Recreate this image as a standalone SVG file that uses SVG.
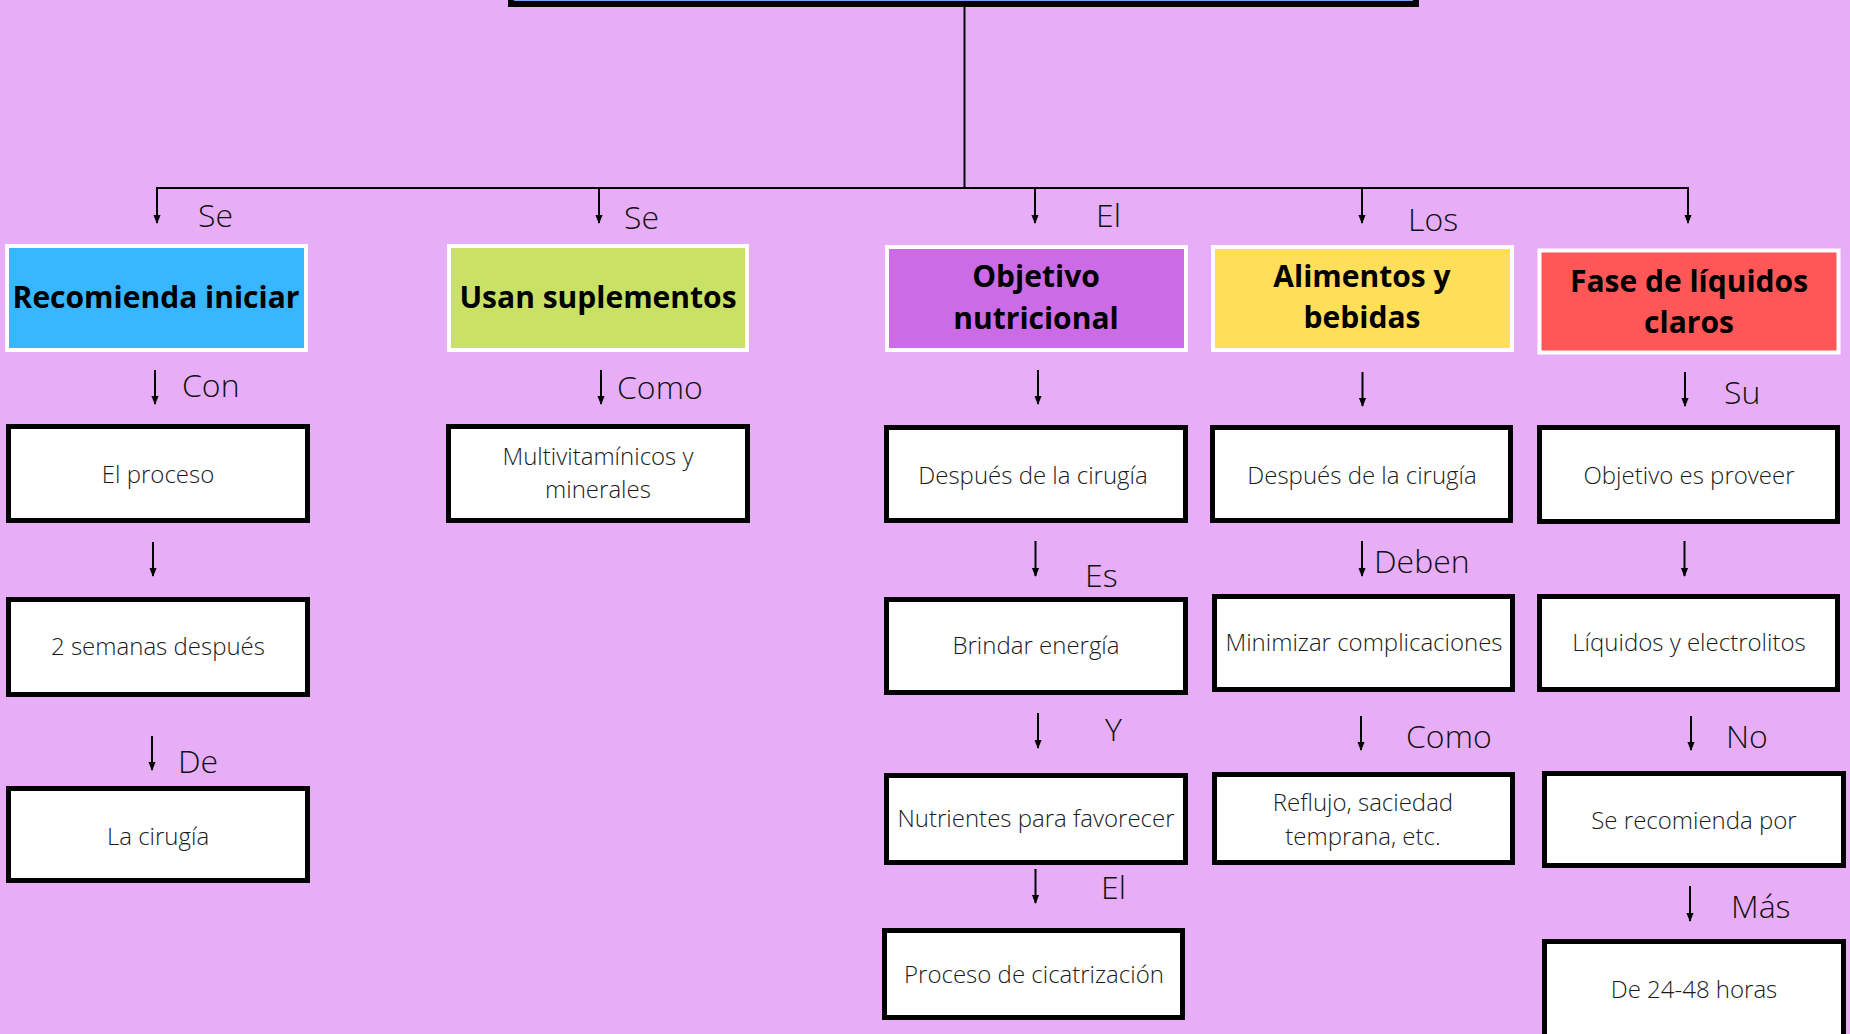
<svg xmlns="http://www.w3.org/2000/svg" width="1850" height="1034" viewBox="0 0 1850 1034">
<defs>
<style>
.bg{fill:#e7adf7}
.hdr{stroke:#ffffff;stroke-width:4}
.node{fill:#ffffff;stroke:#000000;stroke-width:5}
.conn{stroke:#000000;stroke-width:2;fill:none}
.arr{stroke:#000000;stroke-width:2;fill:none;marker-end:url(#ah)}
.lbl{font-family:"Open Sans","Noto Sans",sans-serif;font-weight:300;font-size:32px;fill:#111111}
.txt{font-family:"Open Sans","Noto Sans",sans-serif;font-weight:300;font-size:24px;fill:#1a1a1a;text-anchor:middle}
.htxt{font-family:"Open Sans","Noto Sans",sans-serif;font-weight:700;font-size:30px;fill:#000000;text-anchor:middle}
</style>
<marker id="ah" viewBox="0 0 10 10" refX="9" refY="5" markerWidth="9" markerHeight="9" markerUnits="userSpaceOnUse" orient="auto">
<path d="M0,1 L10,5 L0,9 z" fill="#000000"/>
</marker>
</defs>
<rect class="bg" x="0" y="0" width="1850" height="1034"/>

<g id="top">
<rect x="511" y="-20" width="905" height="24" fill="#7ea3f2" stroke="#000000" stroke-width="6"/>
</g>

<g id="connectors">
<line class="conn" x1="964.5" y1="6" x2="964.5" y2="188"/>
<line class="conn" x1="156" y1="188" x2="1689" y2="188"/>
<line class="arr" x1="157" y1="188" x2="157" y2="223"/>
<line class="arr" x1="599" y1="188" x2="599" y2="223"/>
<line class="arr" x1="1035" y1="188" x2="1035" y2="223"/>
<line class="arr" x1="1362" y1="188" x2="1362" y2="223"/>
<line class="arr" x1="1688" y1="188" x2="1688" y2="223"/>

<line class="arr" x1="155" y1="370" x2="155" y2="404"/>
<line class="arr" x1="153" y1="542" x2="153" y2="576"/>
<line class="arr" x1="152" y1="736" x2="152" y2="770"/>
<line class="arr" x1="601" y1="370" x2="601" y2="404"/>
<line class="arr" x1="1038" y1="370" x2="1038" y2="404"/>
<line class="arr" x1="1035.5" y1="541" x2="1035.5" y2="576"/>
<line class="arr" x1="1038" y1="713" x2="1038" y2="748"/>
<line class="arr" x1="1035.5" y1="869" x2="1035.5" y2="903"/>
<line class="arr" x1="1362.5" y1="372" x2="1362.5" y2="406"/>
<line class="arr" x1="1362" y1="541" x2="1362" y2="576"/>
<line class="arr" x1="1361" y1="716" x2="1361" y2="750"/>
<line class="arr" x1="1685" y1="372" x2="1685" y2="406"/>
<line class="arr" x1="1684.5" y1="541" x2="1684.5" y2="576"/>
<line class="arr" x1="1691" y1="716" x2="1691" y2="750"/>
<line class="arr" x1="1690" y1="886" x2="1690" y2="921"/>

<text class="lbl" x="198" y="227">Se</text>
<text class="lbl" x="624" y="229">Se</text>
<text class="lbl" x="1096" y="227">El</text>
<text class="lbl" x="1408" y="231">Los</text>
<text class="lbl" x="182" y="397">Con</text>
<text class="lbl" x="178" y="773">De</text>
<text class="lbl" x="617" y="399">Como</text>
<text class="lbl" x="1085" y="587">Es</text>
<text class="lbl" x="1105" y="741">Y</text>
<text class="lbl" x="1101" y="899">El</text>
<text class="lbl" x="1374" y="573">Deben</text>
<text class="lbl" x="1406" y="748">Como</text>
<text class="lbl" x="1724" y="404">Su</text>
<text class="lbl" x="1726" y="748">No</text>
<text class="lbl" x="1731" y="918">Más</text>
</g>

<g id="h1"><rect class="hdr" x="7" y="246" width="299" height="104" fill="#38b6ff"/><text class="htxt" x="156" y="308">Recomienda iniciar</text></g>
<g id="h2"><rect class="hdr" x="449" y="246" width="298" height="104" fill="#c9e265"/><text class="htxt" x="598" y="308">Usan suplementos</text></g>
<g id="h3"><rect class="hdr" x="887" y="247" width="299" height="103" fill="#cb6ce6"/><text class="htxt" x="1036" y="287">Objetivo</text><text class="htxt" x="1036" y="329">nutricional</text></g>
<g id="h4"><rect class="hdr" x="1213" y="247" width="299" height="103" fill="#ffde59"/><text class="htxt" x="1362" y="287">Alimentos y</text><text class="htxt" x="1362" y="328">bebidas</text></g>
<g id="h5"><rect class="hdr" x="1539.5" y="250.5" width="299" height="102" fill="#ff5757" stroke-width="5"/><text class="htxt" x="1689" y="292">Fase de líquidos</text><text class="htxt" x="1689" y="333">claros</text></g>

<g id="n1"><rect class="node" x="8.5" y="426.5" width="299" height="94"/><text class="txt" x="158" y="483">El proceso</text></g>
<g id="n2"><rect class="node" x="8.5" y="599.5" width="299" height="95"/><text class="txt" x="158" y="655">2 semanas después</text></g>
<g id="n3"><rect class="node" x="8.5" y="788.5" width="299" height="92"/><text class="txt" x="158" y="845">La cirugía</text></g>
<g id="n4"><rect class="node" x="448.5" y="426.5" width="299" height="94"/><text class="txt" x="598" y="465">Multivitamínicos y</text><text class="txt" x="598" y="498">minerales</text></g>
<g id="n5"><rect class="node" x="886.5" y="427.5" width="299" height="93"/><text class="txt" x="1033" y="484">Después de la cirugía</text></g>
<g id="n6"><rect class="node" x="886.5" y="599.5" width="299" height="93"/><text class="txt" x="1036" y="654">Brindar energía</text></g>
<g id="n7"><rect class="node" x="886.5" y="775.5" width="299" height="87"/><text class="txt" x="1036" y="827">Nutrientes para favorecer</text></g>
<g id="n8"><rect class="node" x="884.5" y="930.5" width="298" height="87"/><text class="txt" x="1034" y="983">Proceso de cicatrización</text></g>
<g id="n9"><rect class="node" x="1212.5" y="427.5" width="298" height="93"/><text class="txt" x="1362" y="484">Después de la cirugía</text></g>
<g id="n10"><rect class="node" x="1214.5" y="596.5" width="298" height="93"/><text class="txt" x="1364" y="651">Minimizar complicaciones</text></g>
<g id="n11"><rect class="node" x="1214.5" y="774.5" width="298" height="88"/><text class="txt" x="1363" y="811">Reflujo, saciedad</text><text class="txt" x="1363" y="845">temprana, etc.</text></g>
<g id="n12"><rect class="node" x="1539.5" y="427.5" width="298" height="94"/><text class="txt" x="1689" y="484">Objetivo es proveer</text></g>
<g id="n13"><rect class="node" x="1539.5" y="596.5" width="298" height="93"/><text class="txt" x="1689" y="651">Líquidos y electrolitos</text></g>
<g id="n14"><rect class="node" x="1544.5" y="773.5" width="299" height="92"/><text class="txt" x="1694" y="829">Se recomienda por</text></g>
<g id="n15"><rect class="node" x="1544.5" y="941.5" width="299" height="120"/><text class="txt" x="1694" y="998">De 24-48 horas</text></g>
</svg>
